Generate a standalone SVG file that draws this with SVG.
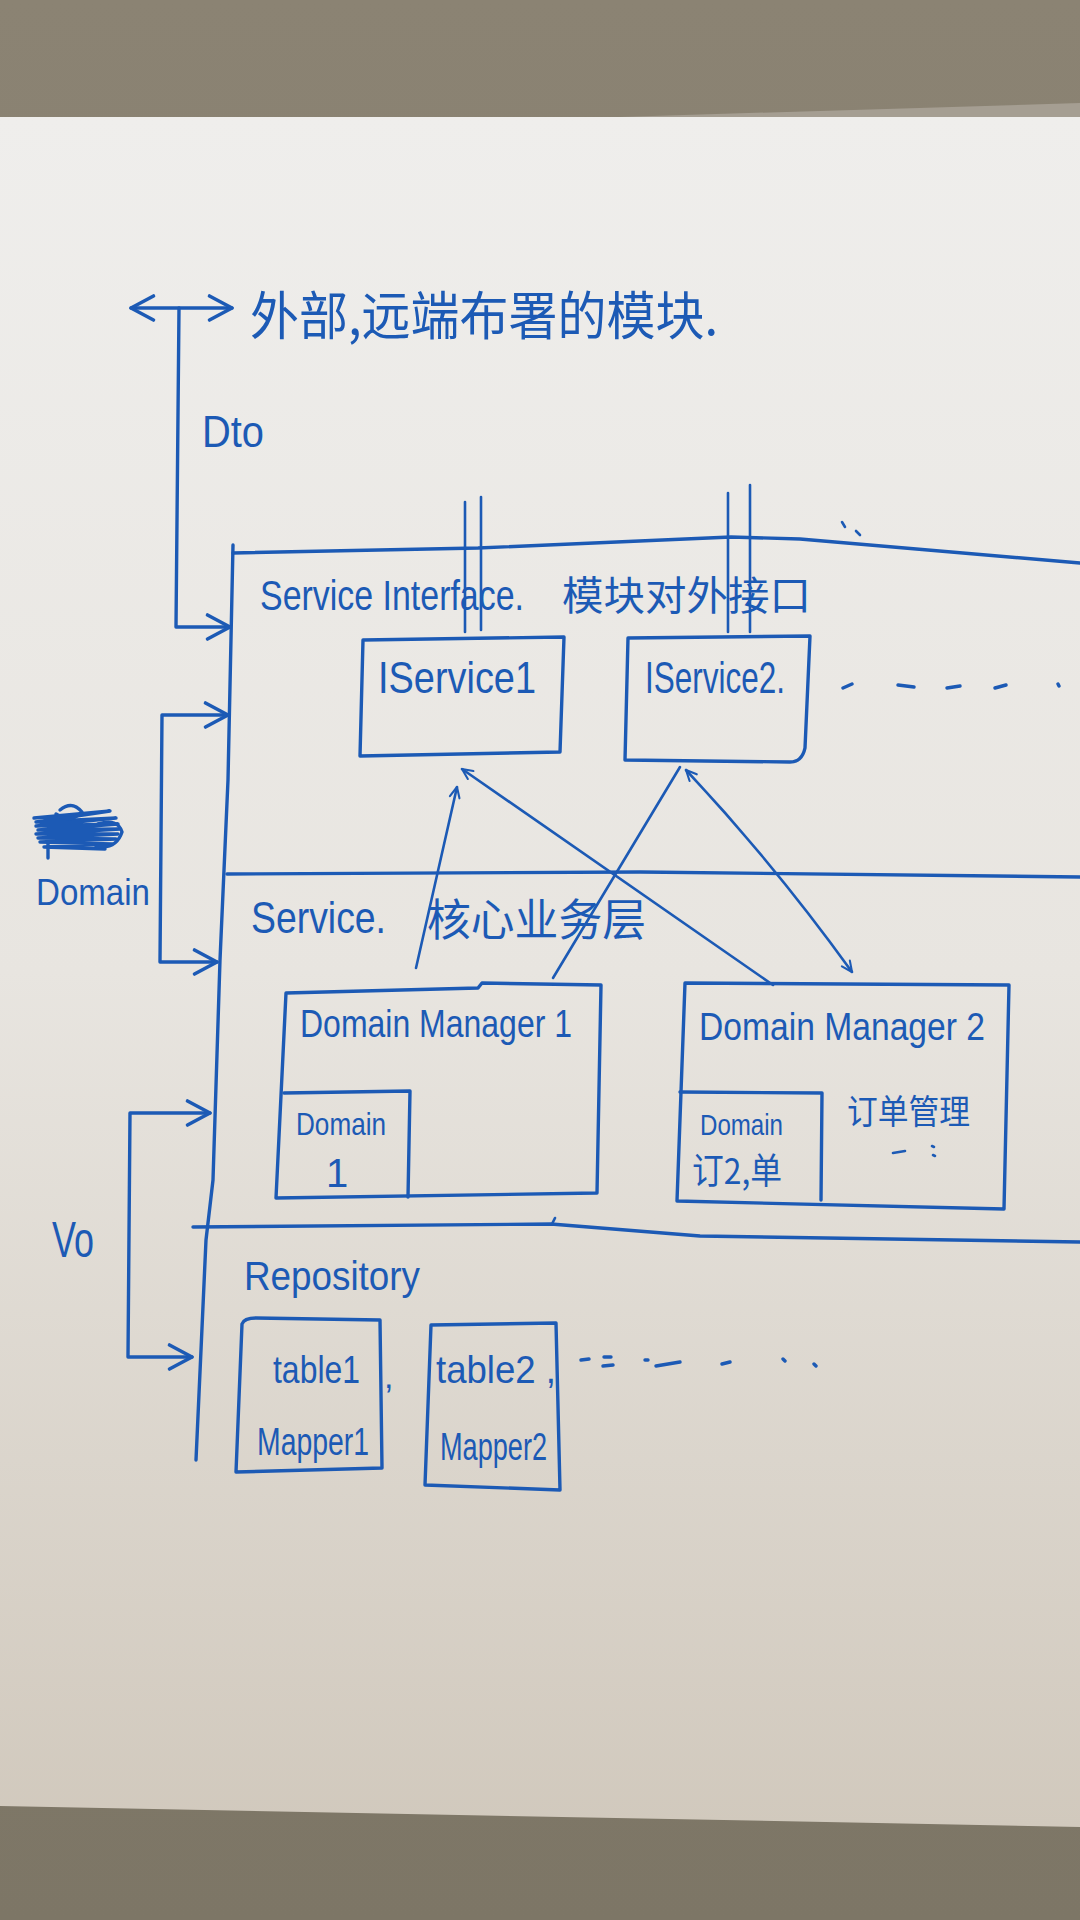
<svg xmlns="http://www.w3.org/2000/svg" width="1080" height="1920" viewBox="0 0 1080 1920">
  <defs>
    <linearGradient id="paper" x1="0" y1="0" x2="0" y2="1">
      <stop offset="0" stop-color="#EFEEEC"/>
      <stop offset="0.5" stop-color="#E8E5E0"/>
      <stop offset="1" stop-color="#D1C9BD"/>
    </linearGradient>
    <linearGradient id="table" x1="0" y1="0" x2="0" y2="1">
      <stop offset="0" stop-color="#8B8373"/>
      <stop offset="1" stop-color="#7D7666"/>
    </linearGradient>
    <marker id="ah" viewBox="0 0 20 20" refX="18" refY="10" markerWidth="30" markerHeight="30" markerUnits="userSpaceOnUse" orient="auto-start-reverse">
      <path d="M3,2 L18,10 L3,18" fill="none" stroke="#1C5AB5" stroke-width="2.4" stroke-linecap="round" stroke-linejoin="round"/>
    </marker>
    <marker id="ahs" viewBox="0 0 20 20" refX="18" refY="10" markerWidth="14" markerHeight="14" markerUnits="userSpaceOnUse" orient="auto-start-reverse">
      <path d="M3,3 L18,10 L3,17" fill="none" stroke="#1C5AB5" stroke-width="3" stroke-linecap="round" stroke-linejoin="round"/>
    </marker>
    <style>
      .ink { fill: none; stroke: #1C5AB5; stroke-width: 3.4; stroke-linecap: round; stroke-linejoin: round; }
      .thin { fill: none; stroke: #1C5AB5; stroke-width: 2.6; stroke-linecap: round; stroke-linejoin: round; }
      .en { font-family: "Liberation Sans", "DejaVu Sans", sans-serif; fill: #1C5AB5; }
      .zh { font-family: "Noto Sans CJK SC", "Noto Sans", sans-serif; fill: #1C5AB5; }
    </style>
  </defs>

  <!-- table / background -->
  <rect x="0" y="0" width="1080" height="1920" fill="url(#table)"/>
  <polygon points="620,117 1080,103 1080,117" fill="#A59E92"/>
  <!-- paper -->
  <polygon points="0,117 1080,117 1080,1827 0,1806" fill="url(#paper)"/>

  <!-- layer frame lines -->
  <g id="frame">
    <polyline class="ink" points="233,545 228,780 220,960 213,1180 206,1240 196,1460"/>
    <polyline class="ink" points="233,553 478,548 731,537 800,539 1080,563"/>
    <polyline class="ink" points="227,874 640,872 1080,877"/>
    <polyline class="ink" points="193,1227 551,1224 700,1236 1080,1242"/>
    <path class="thin" d="M552,1224 L555,1218"/>
    <path class="thin" d="M842,522 L845,527 M856,531 L860,535"/>
  </g>

  <!-- top label -->
  <g id="external-modules">
    <text class="zh" x="250" y="335" font-size="52" textLength="468" lengthAdjust="spacingAndGlyphs">外部,远端布署的模块.</text>
  </g>

  <g id="service-interface-layer">
    <text class="en" x="260" y="610" font-size="42" textLength="264" lengthAdjust="spacingAndGlyphs">Service Interface.</text>
    <text class="zh" x="562" y="610" font-size="40" textLength="249" lengthAdjust="spacingAndGlyphs">模块对外接口</text>
  </g>

  <g id="iservice1">
    <path class="ink" d="M363,640 L564,637 L560,752 L360,756 Z"/>
    <text class="en" x="378" y="693" font-size="44" textLength="158" lengthAdjust="spacingAndGlyphs">IService1</text>
  </g>

  <g id="iservice2">
    <path class="ink" d="M628,638 L810,636 L805,748 Q802,762 790,762 L625,760 Z"/>
    <text class="en" x="645" y="693" font-size="44" textLength="140" lengthAdjust="spacingAndGlyphs">IService2.</text>
  </g>

  <g id="ellipsis-1">
    <path class="ink" d="M843,688 L852,684 M898,685 L914,687 M947,688 L960,686 M995,688 L1006,685 M1058,684 L1059,686"/>
  </g>

  <g id="service-layer">
    <text class="en" x="251" y="933" font-size="44" textLength="135" lengthAdjust="spacingAndGlyphs">Service.</text>
    <text class="zh" x="427" y="936" font-size="44" textLength="219" lengthAdjust="spacingAndGlyphs">核心业务层</text>
  </g>

  <g id="domain-manager-1">
    <path class="ink" d="M286,993 L478,988 L482,983 L601,985 L597,1193 L276,1198 Z"/>
    <text class="en" x="300" y="1037" font-size="38" textLength="272" lengthAdjust="spacingAndGlyphs">Domain Manager 1</text>
    <g id="domain-1">
      <path class="ink" d="M284,1093 L410,1091 L408,1197"/>
      <text class="en" x="296" y="1135" font-size="32" textLength="90" lengthAdjust="spacingAndGlyphs">Domain</text>
      <text class="en" x="326" y="1187" font-size="40">1</text>
    </g>
  </g>

  <g id="domain-manager-2">
    <path class="ink" d="M685,983 L1009,985 L1004,1209 L677,1201 Z"/>
    <text class="en" x="699" y="1040" font-size="38" textLength="286" lengthAdjust="spacingAndGlyphs">Domain Manager 2</text>
    <text class="zh" x="847" y="1124" font-size="34" textLength="123" lengthAdjust="spacingAndGlyphs">订单管理</text>
    <path class="thin" d="M893,1153 L905,1151 M932,1146 L934,1147 M933,1155 L935,1156"/>
    <g id="domain-order">
      <path class="ink" d="M680,1092 L822,1093 L821,1200"/>
      <text class="en" x="700" y="1135" font-size="30" textLength="83" lengthAdjust="spacingAndGlyphs">Domain</text>
      <text class="zh" x="692" y="1184" font-size="36" textLength="90" lengthAdjust="spacingAndGlyphs">订2,单</text>
    </g>
  </g>

  <g id="repository-layer">
    <text class="en" x="244" y="1290" font-size="40" textLength="176" lengthAdjust="spacingAndGlyphs">Repository</text>
  </g>

  <g id="table1">
    <path class="ink" d="M242,1324 Q244,1318 256,1318 L380,1320 L382,1468 L236,1472 Z"/>
    <text class="en" x="273" y="1383" font-size="38" textLength="87" lengthAdjust="spacingAndGlyphs">table1</text>
    <text class="en" x="257" y="1455" font-size="38" textLength="112" lengthAdjust="spacingAndGlyphs">Mapper1</text>
  </g>
  <text class="en" x="384" y="1388" font-size="34">,</text>

  <g id="table2">
    <path class="ink" d="M431,1325 L556,1323 L560,1490 L425,1485 Z"/>
    <text class="en" x="436" y="1383" font-size="38" textLength="120" lengthAdjust="spacingAndGlyphs">table2 ,</text>
    <text class="en" x="440" y="1460" font-size="38" textLength="107" lengthAdjust="spacingAndGlyphs">Mapper2</text>
  </g>

  <g id="ellipsis-2">
    <path class="ink" d="M581,1360 L589,1359 M604,1357 L611,1357 M603,1366 L613,1365 M645,1360 L648,1360 M656,1366 L680,1362 M722,1364 L730,1362 M783,1359 L785,1361 M814,1364 L816,1366"/>
  </g>

  <g id="crossed-out-label">
    <path class="ink" d="M34,818 L110,811 L36,822 L116,818 L36,826 L118,824 L38,830 L120,829 L36,834 L118,834 L38,838 L116,839 L40,842 L112,844 L44,847 L105,849"/>
    <path class="ink" d="M60,810 Q72,800 82,812 Q70,824 56,814 M98,824 Q118,818 122,832 Q116,850 96,846 M48,842 L48,858"/>
  </g>

  <g id="side-labels">
    <text class="en" x="202" y="447" font-size="44" textLength="62" lengthAdjust="spacingAndGlyphs">Dto</text>
    <text class="en" x="36" y="905" font-size="36" textLength="114" lengthAdjust="spacingAndGlyphs">Domain</text>
    <text class="en" x="52" y="1257" font-size="50" textLength="42" lengthAdjust="spacingAndGlyphs">Vo</text>
  </g>

  <g id="connectors">
    <!-- external <-> module, Dto -->
    <line class="ink" x1="131" y1="308" x2="232" y2="308" marker-start="url(#ah)" marker-end="url(#ah)"/>
    <polyline class="ink" points="179,308 176,627 230,627" marker-end="url(#ah)"/>
    <!-- Domain bracket -->
    <polyline class="ink" points="228,715 162,715 160,962 217,962" marker-start="url(#ah)" marker-end="url(#ah)"/>
    <!-- Vo bracket -->
    <polyline class="ink" points="210,1113 130,1113 128,1357 192,1357" marker-start="url(#ah)" marker-end="url(#ah)"/>
    <!-- layer tick pairs -->
    <line class="thin" x1="465" y1="502" x2="465" y2="632"/>
    <line class="thin" x1="481" y1="497" x2="481" y2="630"/>
    <line class="thin" x1="728" y1="493" x2="728" y2="632"/>
    <line class="thin" x1="750" y1="485" x2="750" y2="632"/>
    <!-- service <-> domain manager links -->
    <line class="thin" x1="416" y1="968" x2="457" y2="787" marker-end="url(#ahs)"/>
    <line class="thin" x1="773" y1="985" x2="462" y2="769" marker-end="url(#ahs)"/>
    <line class="thin" x1="553" y1="978" x2="680" y2="767"/>
    <path class="thin" d="M686,770 Q775,865 852,972" marker-start="url(#ahs)" marker-end="url(#ahs)"/>
  </g>
</svg>
